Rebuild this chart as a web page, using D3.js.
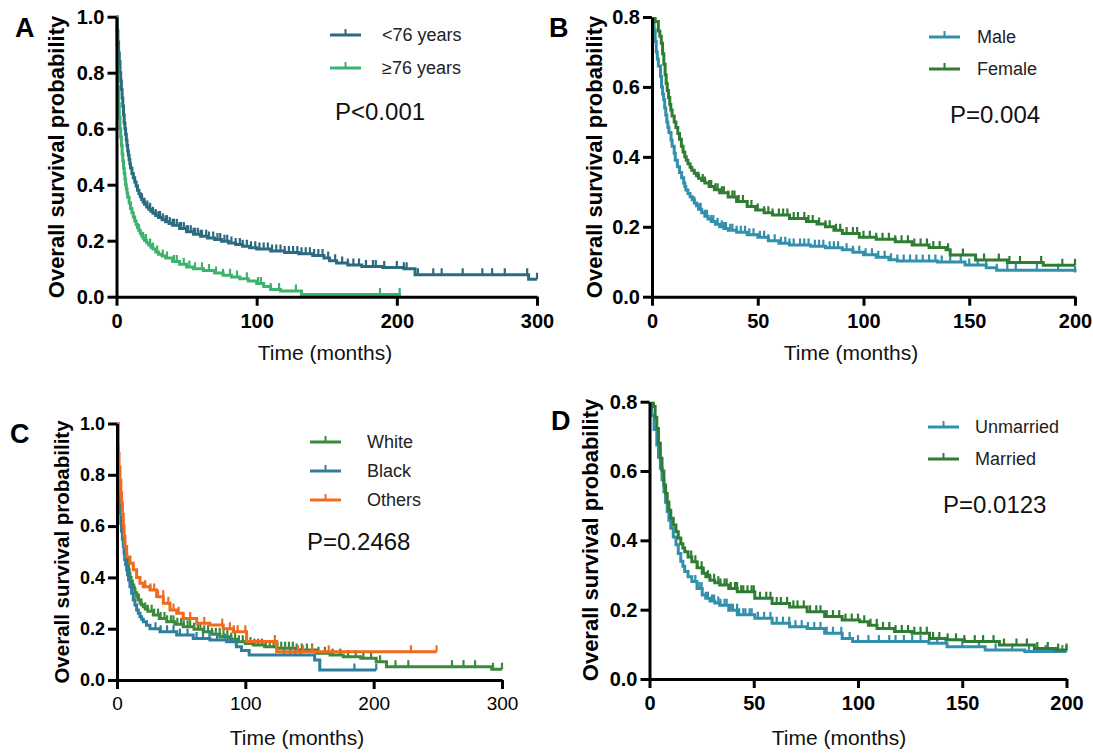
<!DOCTYPE html>
<html lang="en">
<head>
<meta charset="UTF-8" />
<title>Overall survival by subgroup</title>
<script src="https://d3js.org/d3.v7.min.js"></script>
<style>
  body { margin: 0; background: #fff; }
  svg { display: block; font-family: "Liberation Sans", Arial, sans-serif; }
  .axis path, .axis line { stroke: #000; stroke-width: 3; }
</style>
</head>
<body>
<svg id="chart" width="1093" height="755"></svg>
<script>
// ---- data ----
// step points [months, survival]; censor = months of tick marks
const ageYoung = [[0,1],[0.5,0.95],[1,0.91],[1.5,0.87],[2,0.84],[2.5,0.8],[3,0.77],[3.5,0.74],[4,0.71],[4.5,0.68],[5,0.65],[5.5,0.62],[6,0.6],[6.5,0.58],[7,0.56],[7.5,0.54],[8,0.52],[8.5,0.505],[9,0.49],[9.5,0.475],[10,0.46],[11,0.44],[12,0.425],[13,0.41],[14,0.395],[15,0.38],[16,0.368],[17,0.357],[18,0.347],[19,0.338],[20,0.33],[21.5,0.32],[23,0.312],[24.5,0.305],[26,0.298],[28,0.29],[30,0.283],[32.5,0.275],[35,0.268],[37.5,0.261],[40,0.255],[45,0.244],[50,0.232],[55,0.223],[60,0.216],[65,0.21],[70,0.204],[75,0.198],[80,0.192],[85,0.186],[90,0.18],[95,0.175],[100,0.17],[110,0.163],[120,0.158],[130,0.153],[140,0.147],[148,0.138],[152,0.128],[157,0.12],[165,0.113],[175,0.108],[190,0.104],[205,0.1],[213,0.078],[294,0.062],[300,0.062]];
const ageYoungCensor = [18,20,22,24,26,28,30,31,33,35,36,38,40,41,43,45,46,48,50,51,53,55,56,58,60,61,64,66,69,72,74,77,79,82,85,88,90,93,96,99,102,105,108,111,114,117,120,123,126,129,132,135,138,141,144,147,151,156,161,165,169,173,178,183,185,191,200,205,207,215,226,232,247,261,268,277,293,300];
const ageOld = [[0,1],[0.3,0.9],[0.6,0.82],[1,0.75],[1.5,0.69],[2,0.64],[2.5,0.6],[3,0.57],[3.5,0.54],[4,0.51],[4.5,0.485],[5,0.46],[5.5,0.44],[6,0.42],[6.5,0.4],[7,0.385],[7.5,0.37],[8,0.355],[9,0.335],[10,0.315],[11,0.3],[12,0.285],[13,0.27],[14,0.258],[15,0.246],[16,0.236],[17,0.226],[18,0.217],[19,0.209],[20,0.201],[21.5,0.193],[23,0.185],[24.5,0.177],[26,0.17],[28,0.16],[30,0.152],[32.5,0.145],[35,0.138],[40,0.126],[45,0.116],[50,0.106],[55,0.1],[62,0.094],[70,0.085],[76,0.077],[82,0.07],[88,0.064],[94,0.056],[100,0.047],[105,0.036],[110,0.026],[117,0.02],[132,0.008],[203,0.008]];
const ageOldCensor = [16,19,21,24,26,29,33,36,41,43,48,52,56,61,66,71,76,81,86,93,101,103,110,116,128,188,202];

const sexMale = [[0,1],[1,0.763],[1.5,0.73],[2,0.7],[2.5,0.68],[3,0.66],[4,0.63],[4.5,0.6],[5,0.58],[5.5,0.563],[6,0.54],[6.5,0.52],[7,0.5],[7.5,0.485],[8,0.47],[9,0.448],[9.5,0.43],[10.5,0.41],[11,0.39],[12,0.372],[13,0.355],[14,0.34],[15,0.325],[15.5,0.315],[16,0.305],[17,0.295],[18,0.286],[19,0.277],[20,0.268],[21,0.26],[22,0.25],[23.5,0.24],[25,0.23],[26.5,0.222],[28,0.215],[30,0.207],[32,0.2],[34,0.195],[36,0.19],[40,0.184],[45,0.177],[50,0.17],[55,0.16],[60,0.153],[65,0.148],[75,0.144],[82,0.14],[90,0.134],[95,0.127],[100,0.12],[106,0.113],[112,0.106],[116,0.102],[135,0.099],[148,0.091],[158,0.083],[163,0.076],[200,0.07]];
const sexMaleCensor = [20,22,23,25,26,28,29,31,33,34,35,37,38,40,42,44,46,48,51,53,55,58,61,63,65,67,70,72,74,77,79,81,84,86,88,92,95,98,101,104,107,110,113,116,119,122,125,128,131,134,137,141,146,150,154,158,163,168,172,182,192,200];
const sexFemale = [[0,1],[1.5,0.787],[3,0.76],[3.7,0.745],[4.4,0.725],[5,0.695],[5.6,0.665],[6.2,0.635],[6.7,0.61],[7.2,0.59],[7.8,0.57],[8.4,0.55],[8.9,0.534],[9.5,0.517],[10.5,0.5],[11.3,0.484],[12.2,0.467],[13,0.45],[13.9,0.43],[14.7,0.414],[15.5,0.4],[16.2,0.39],[17,0.38],[18,0.37],[18.8,0.362],[20,0.353],[21,0.346],[22,0.339],[23.5,0.332],[25,0.325],[27,0.315],[29.5,0.306],[32,0.297],[36,0.285],[40,0.272],[45,0.258],[49,0.248],[53,0.24],[57,0.234],[65,0.224],[73,0.215],[78,0.208],[82,0.2],[86,0.19],[90,0.181],[98,0.17],[106,0.164],[115,0.157],[123,0.148],[131,0.141],[139,0.134],[141,0.119],[153,0.105],[168,0.098],[185,0.09],[200,0.09]];
const sexFemaleCensor = [22,24,25,27,28,30,31,33,34,36,38,39,41,43,45,47,50,53,55,57,60,62,64,67,69,72,74,76,79,82,84,87,89,92,95,97,100,103,106,109,112,115,118,121,124,127,130,133,136,140,147,157,164,169,174,184,194,200];

const raceWhite = [[0,1],[0.5,0.9],[1,0.82],[1.5,0.76],[2.3,0.69],[3,0.65],[3.5,0.62],[4.2,0.59],[4.9,0.56],[5.5,0.535],[6,0.51],[6.7,0.49],[7.5,0.47],[8.2,0.45],[9,0.43],[9.5,0.415],[10.1,0.4],[11,0.385],[12,0.37],[13,0.355],[14,0.34],[15.3,0.325],[16.5,0.312],[18,0.3],[19,0.293],[20.5,0.286],[22,0.277],[24,0.268],[28.3,0.253],[33,0.24],[38.7,0.227],[45,0.217],[51.6,0.208],[60,0.198],[67.2,0.188],[74,0.178],[80.2,0.169],[87,0.159],[93.2,0.149],[100,0.142],[106.2,0.136],[115,0.13],[124.4,0.124],[140,0.117],[155.5,0.104],[166,0.097],[176.3,0.091],[190,0.085],[202,0.071],[210,0.052],[292,0.042],[300,0.042]];
const raceWhiteCensor = [14,17,19,22,24,27,29,32,34,37,39,42,44,47,50,52,55,57,60,63,65,68,71,74,77,80,83,86,89,92,95,98,101,104,107,110,113,116,119,122,125,128,131,134,137,140,144,148,152,157,162,168,174,180,186,192,198,205,217,227,261,270,279,293,300];
const raceBlack = [[0,1],[0.5,0.91],[1,0.754],[1.6,0.7],[2.3,0.65],[3,0.61],[3.5,0.58],[4.2,0.55],[4.9,0.52],[5.5,0.495],[6,0.47],[6.7,0.45],[7.5,0.43],[8.2,0.41],[9,0.39],[10.1,0.364],[11.4,0.338],[12.7,0.312],[14,0.292],[15.3,0.273],[16.6,0.26],[17.9,0.247],[19.2,0.237],[20.5,0.227],[23,0.213],[25.7,0.2],[33.5,0.188],[46.5,0.175],[59.4,0.162],[72.4,0.156],[85.4,0.149],[93,0.13],[97,0.115],[103,0.097],[154,0.078],[158,0.039],[202,0.039]];
const raceBlackCensor = [30,34,39,44,49,55,62,67,72,78,84,89,130,135,139,143,185,202];
const raceOthers = [[0,1],[1,0.884],[1.6,0.83],[2.3,0.78],[3,0.73],[3.6,0.69],[4.2,0.645],[4.9,0.6],[5.5,0.56],[6.2,0.52],[7.5,0.48],[10.1,0.455],[12.7,0.43],[15.3,0.4],[17.9,0.377],[20.5,0.364],[25.7,0.351],[30.9,0.325],[36.1,0.299],[41.3,0.273],[46.5,0.26],[51.6,0.24],[62.1,0.221],[72.4,0.214],[82.8,0.2],[90.6,0.188],[101,0.15],[124.4,0.11],[249,0.11]];
const raceOthersCensor = [22,26,29,32,36,40,44,48,57,68,82,88,91,94,100,123,141,145,152,165,229,249];

const marMarried = [[0,1],[1.9,0.786],[2.7,0.755],[3.5,0.723],[4.3,0.68],[5.2,0.637],[6,0.6],[6.9,0.56],[7.7,0.535],[8.5,0.511],[9.3,0.487],[10.2,0.464],[11.4,0.444],[12.7,0.425],[13.8,0.407],[15,0.39],[16,0.378],[16.9,0.367],[18.5,0.352],[20.3,0.338],[22.8,0.321],[25.3,0.305],[27,0.295],[29,0.285],[31.3,0.278],[33.7,0.271],[38,0.261],[42.1,0.252],[50.5,0.233],[58.8,0.218],[67.2,0.208],[75.6,0.194],[84,0.18],[92.4,0.17],[100.8,0.165],[105,0.155],[109.1,0.146],[117.5,0.137],[125.9,0.132],[134.3,0.117],[142.7,0.113],[151,0.108],[167.8,0.098],[184.6,0.088],[195,0.084],[200,0.084]];
const marMarriedCensor = [20,22,23,25,26,28,29,31,33,34,36,37,39,41,42,44,45,47,49,50,53,56,58,61,63,66,69,71,74,77,80,82,85,88,91,94,97,100,103,106,109,112,115,118,121,124,127,130,133,136,139,143,147,151,156,160,165,170,176,181,186,191,196,200];
const marUnmarried = [[0,1],[1,0.76],[2.2,0.72],[3.5,0.675],[4.3,0.64],[5.2,0.608],[6,0.575],[6.9,0.54],[7.7,0.51],[8.5,0.483],[9.3,0.458],[10.2,0.435],[11.4,0.41],[12.7,0.387],[13.8,0.362],[15,0.34],[16,0.325],[16.9,0.31],[18.5,0.295],[20.3,0.281],[22.8,0.261],[25.3,0.242],[27,0.233],[29,0.225],[31.3,0.219],[33.7,0.213],[38,0.198],[42.1,0.185],[50.5,0.175],[58.8,0.161],[67.2,0.151],[75.6,0.146],[84,0.132],[92.4,0.117],[97.4,0.108],[134,0.103],[142.7,0.093],[161,0.084],[180,0.079],[200,0.079]];
const marUnmarriedCensor = [22,24,25,27,28,30,31,33,34,36,37,39,40,42,43,45,46,48,49,52,55,58,61,64,67,70,73,76,79,82,85,88,92,96,100,105,110,115,118,122,126,130,134,138,142,150,158,166,174,182,190,198,200];

const yTicksFull = [0, 0.2, 0.4, 0.6, 0.8, 1.0];
const yTicksShort = [0, 0.2, 0.4, 0.6, 0.8];
const xTicks300 = [0, 100, 200, 300];
const xTicks200 = [0, 50, 100, 150, 200];

// ---- panel layout ----
const panels = [
  { id: "A", xr: [116.5, 537], yr: [296.7, 16.7], xmax: 300, ymax: 1, xt: xTicks300, yt: yTicksFull,
    letter: [15, 37], ytitle: [56, 157], time: [325, 360], tickBold: true, yFont: 20,
    legend: { x: 330, y: [35, 68], tx: 382 }, p: { text: "P<0.001", x: 335, y: 120 },
    series: [
      { name: "<76 years", steps: ageYoung, censor: ageYoungCensor, color: "#2b6b82" },
      { name: "\u226576 years", steps: ageOld, censor: ageOldCensor, color: "#3db36f" }
    ] },
  { id: "B", xr: [652, 1075], yr: [296.7, 17], xmax: 200, ymax: 0.8, xt: xTicks200, yt: yTicksShort,
    letter: [549, 37], ytitle: [594, 157], time: [851, 360], tickBold: true, yFont: 20,
    legend: { x: 929, y: [37, 69], tx: 977 }, p: { text: "P=0.004", x: 950, y: 123 },
    series: [
      { name: "Male", steps: sexMale, censor: sexMaleCensor, color: "#3190ab" },
      { name: "Female", steps: sexFemale, censor: sexFemaleCensor, color: "#2f7d32" }
    ] },
  { id: "C", xr: [117, 502], yr: [680, 423.5], xmax: 300, ymax: 1, xt: xTicks300, yt: yTicksFull,
    letter: [10, 443], ytitle: [62, 552], time: [297, 745], tickBold: false, yFont: 18,
    legend: { x: 310, y: [442, 471, 500], tx: 367 }, p: { text: "P=0.2468", x: 307, y: 550 },
    series: [
      { name: "White", steps: raceWhite, censor: raceWhiteCensor, color: "#3b8a3b" },
      { name: "Black", steps: raceBlack, censor: raceBlackCensor, color: "#2e7f9d" },
      { name: "Others", steps: raceOthers, censor: raceOthersCensor, color: "#f26a1e" }
    ] },
  { id: "D", xr: [649.5, 1066.5], yr: [679, 401.7], xmax: 200, ymax: 0.8, xt: xTicks200, yt: yTicksShort,
    letter: [551, 430], ytitle: [590, 540], time: [839, 745], tickBold: true, yFont: 20,
    legend: { x: 928, y: [427, 459], tx: 975 }, p: { text: "P=0.0123", x: 943, y: 513 },
    series: [
      { name: "Unmarried", steps: marUnmarried, censor: marUnmarriedCensor, color: "#3190ab" },
      { name: "Married", steps: marMarried, censor: marMarriedCensor, color: "#2f7d32" }
    ] }
];

const svg = d3.select("#chart");
svg.append("rect").attr("width", 1093).attr("height", 755).attr("fill", "#fff");

// survival value at time t (last step at or before t)
function survAt(steps, t) {
  let s = steps[0][1];
  for (const d of steps) { if (d[0] <= t) s = d[1]; }
  return s;
}

panels.forEach(p => {
  const x = d3.scaleLinear().domain([0, p.xmax]).range(p.xr);
  const y = d3.scaleLinear().domain([0, p.ymax]).range(p.yr);
  const g = svg.append("g");

  g.append("clipPath").attr("id", "clip" + p.id)
    .append("rect")
    .attr("x", p.xr[0] - 2).attr("y", p.yr[1] - (p.ymax === 1 ? 3 : 0))
    .attr("width", p.xr[1] - p.xr[0] + 6).attr("height", p.yr[0] - p.yr[1] + 4);

  const plot = g.append("g").attr("clip-path", `url(#clip${p.id})`);
  const line = d3.line().curve(d3.curveStepAfter).x(d => x(d[0])).y(d => y(d[1]));

  p.series.forEach(s => {
    plot.append("path")
      .datum(s.steps)
      .attr("fill", "none")
      .attr("stroke", s.color)
      .attr("stroke-width", 3)
      .attr("d", line);
    plot.selectAll(null)
      .data(s.censor)
      .enter().append("line")
      .attr("x1", d => x(d)).attr("x2", d => x(d))
      .attr("y1", d => y(survAt(s.steps, d)))
      .attr("y2", d => y(survAt(s.steps, d)) - 6.5)
      .attr("stroke", s.color)
      .attr("stroke-width", 2.2);
  });

  // axes
  const yAxis = g.append("g").attr("class", "axis")
    .attr("transform", `translate(${p.xr[0]},0)`)
    .call(d3.axisLeft(y).tickValues(p.yt).tickFormat(d3.format(".1f")).tickSize(9).tickSizeOuter(0).tickPadding(3));
  yAxis.selectAll("text")
    .attr("font-size", p.yFont).attr("font-weight", "bold").attr("fill", "#000")
    .attr("font-family", "Liberation Sans, Arial, sans-serif");

  const xAxis = g.append("g").attr("class", "axis")
    .attr("transform", `translate(0,${p.yr[0]})`)
    .call(d3.axisBottom(x).tickValues(p.xt).tickFormat(d3.format("d")).tickSize(9).tickSizeOuter(0).tickPadding(8));
  xAxis.selectAll("text")
    .attr("font-size", p.tickBold ? 20 : 19).attr("font-weight", p.tickBold ? "bold" : "normal").attr("fill", "#000")
    .attr("font-family", "Liberation Sans, Arial, sans-serif");

  // labels
  g.append("text").attr("x", p.letter[0]).attr("y", p.letter[1])
    .attr("font-size", 27).attr("font-weight", "bold").text(p.id);

  g.append("text")
    .attr("transform", `translate(${p.ytitle[0]},${p.ytitle[1]}) rotate(-90)`)
    .attr("text-anchor", "middle").attr("dy", "0.35em")
    .attr("font-size", p.id === "C" ? 20.5 : 22).attr("font-weight", "bold")
    .text("Overall survival probability");

  g.append("text").attr("x", p.time[0]).attr("y", p.time[1])
    .attr("text-anchor", "middle").attr("font-size", 21).attr("fill", "#111")
    .text("Time (months)");

  // legend
  p.series.forEach((s, i) => {
    const ly = p.legend.y[i];
    g.append("line")
      .attr("x1", p.legend.x).attr("x2", p.legend.x + 31)
      .attr("y1", ly).attr("y2", ly)
      .attr("stroke", s.color).attr("stroke-width", 3);
    g.append("line")
      .attr("x1", p.legend.x + 15.5).attr("x2", p.legend.x + 15.5)
      .attr("y1", ly).attr("y2", ly - 6)
      .attr("stroke", s.color).attr("stroke-width", 2);
    g.append("text").attr("x", p.legend.tx).attr("y", ly).attr("dy", "0.35em")
      .attr("font-size", 18).attr("fill", "#222").text(s.name);
  });

  g.append("text").attr("x", p.p.x).attr("y", p.p.y)
    .attr("font-size", 24).attr("fill", "#111").text(p.p.text);
});
</script>
</body>
</html>
